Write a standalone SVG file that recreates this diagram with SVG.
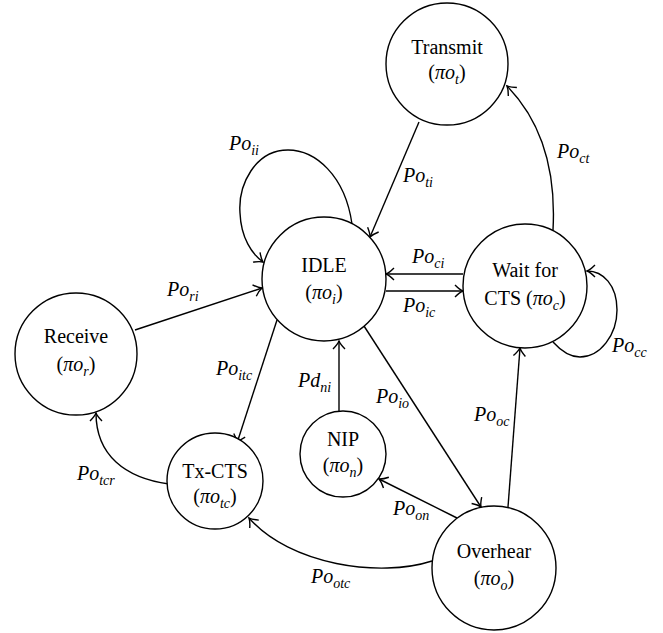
<svg xmlns="http://www.w3.org/2000/svg" width="663" height="633" viewBox="0 0 663 633">
<style>
.n{fill:#fff;stroke:#000;stroke-width:1.4}
.t{font-family:Liberation Serif,Times New Roman,Times,serif;font-size:20px;fill:#000;text-anchor:middle}
.l{font-family:Liberation Serif,Times New Roman,Times,serif;font-size:20px;font-style:italic;fill:#000}
.i{font-style:italic}
.s{font-size:14px;font-style:italic}
.e{fill:none;stroke:#000;stroke-width:1.4}
</style>
<defs>
<marker id="a" markerUnits="userSpaceOnUse" markerWidth="20" markerHeight="20" refX="0" refY="0" viewBox="-10 -10 20 20" orient="auto" overflow="visible">
<path d="M-8,-6 C-5,-3 -2,-0.8 0,0 C-2,0.8 -5,3 -8,6" fill="none" stroke="#000" stroke-width="1.4"/>
</marker>
</defs>
<rect width="663" height="633" fill="#fff"/>
<g id="connectors">
<path class="e" d="M419,122 L370,237" marker-end="url(#a)"/>
<path class="e" d="M352,224 C345,175 315,150 288,150 C255,150 238,185 240,213 C241,238 252,254 263,262" marker-end="url(#a)"/>
<path class="e" d="M553,230 C556,175 545,125 507,86" marker-end="url(#a)"/>
<path class="e" d="M463,274 L386,274" marker-end="url(#a)"/>
<path class="e" d="M386,291 L463,291" marker-end="url(#a)"/>
<path class="e" d="M553,342 C562,352 570,357 580,357 C600,357 617,335 617,310 C617,285 603,271 587,271" marker-end="url(#a)"/>
<path class="e" d="M135,330 L262,288" marker-end="url(#a)"/>
<path class="e" d="M277,320 L237,443" marker-end="url(#a)"/>
<path class="e" d="M339,412 L339,341" marker-end="url(#a)"/>
<path class="e" d="M364,326 L481,507" marker-end="url(#a)"/>
<path class="e" d="M508,507 L520,348" marker-end="url(#a)"/>
<path class="e" d="M457,518 L379,479" marker-end="url(#a)"/>
<path class="e" d="M432,561 C380,578 290,565 249,518" marker-end="url(#a)"/>
<path class="e" d="M169,484 C125,478 96,455 96,413" marker-end="url(#a)"/>
</g>
<g id="labels">
<text class="l" font-family="Liberation Serif" x="229" y="150">Po<tspan class="s" dy="5">ii</tspan></text>
<text class="l" font-family="Liberation Serif" x="403" y="182">Po<tspan class="s" dy="5">ti</tspan></text>
<text class="l" font-family="Liberation Serif" x="557" y="158">Po<tspan class="s" dy="5">ct</tspan></text>
<text class="l" font-family="Liberation Serif" x="412" y="263">Po<tspan class="s" dy="5">ci</tspan></text>
<text class="l" font-family="Liberation Serif" x="403" y="312">Po<tspan class="s" dy="5">ic</tspan></text>
<text class="l" font-family="Liberation Serif" x="612" y="352">Po<tspan class="s" dy="5">cc</tspan></text>
<text class="l" font-family="Liberation Serif" x="167" y="296">Po<tspan class="s" dy="5">ri</tspan></text>
<text class="l" font-family="Liberation Serif" x="216" y="375">Po<tspan class="s" dy="5">itc</tspan></text>
<text class="l" font-family="Liberation Serif" x="298" y="387">Pd<tspan class="s" dy="5">ni</tspan></text>
<text class="l" font-family="Liberation Serif" x="376" y="403">Po<tspan class="s" dy="5">io</tspan></text>
<text class="l" font-family="Liberation Serif" x="474" y="421">Po<tspan class="s" dy="5">oc</tspan></text>
<text class="l" font-family="Liberation Serif" x="393" y="515">Po<tspan class="s" dy="5">on</tspan></text>
<text class="l" font-family="Liberation Serif" x="311" y="583">Po<tspan class="s" dy="5">otc</tspan></text>
<text class="l" font-family="Liberation Serif" x="77" y="480">Po<tspan class="s" dy="5">tcr</tspan></text>
</g>
<g id="transmit">
<circle class="n" cx="447" cy="64" r="61"/>
<text class="t" font-family="Liberation Serif" x="447" y="54">Transmit</text>
<text class="t" font-family="Liberation Serif" x="447" y="79">(<tspan class="i">πo</tspan><tspan class="s" dy="5">t</tspan><tspan dy="-5">)</tspan></text>
</g>
<g id="idle">
<circle class="n" cx="324" cy="279" r="62"/>
<text class="t" font-family="Liberation Serif" x="324" y="272">IDLE</text>
<text class="t" font-family="Liberation Serif" x="324" y="299">(<tspan class="i">πo</tspan><tspan class="s" dy="5">i</tspan><tspan dy="-5">)</tspan></text>
</g>
<g id="waitcts">
<circle class="n" cx="525" cy="286" r="62"/>
<text class="t" font-family="Liberation Serif" x="525" y="277">Wait for</text>
<text class="t" font-family="Liberation Serif" x="525" y="305">CTS (<tspan class="i">πo</tspan><tspan class="s" dy="5">c</tspan><tspan dy="-5">)</tspan></text>
</g>
<g id="receive">
<circle class="n" cx="76" cy="354" r="61"/>
<text class="t" font-family="Liberation Serif" x="76" y="343">Receive</text>
<text class="t" font-family="Liberation Serif" x="76" y="371">(<tspan class="i">πo</tspan><tspan class="s" dy="5">r</tspan><tspan dy="-5">)</tspan></text>
</g>
<g id="txcts">
<circle class="n" cx="215" cy="481" r="48"/>
<text class="t" font-family="Liberation Serif" x="215" y="478">Tx-CTS</text>
<text class="t" font-family="Liberation Serif" x="215" y="503">(<tspan class="i">πo</tspan><tspan class="s" dy="5">tc</tspan><tspan dy="-5">)</tspan></text>
</g>
<g id="nip">
<circle class="n" cx="343" cy="454" r="43"/>
<text class="t" font-family="Liberation Serif" x="343" y="446">NIP</text>
<text class="t" font-family="Liberation Serif" x="343" y="472">(<tspan class="i">πo</tspan><tspan class="s" dy="5">n</tspan><tspan dy="-5">)</tspan></text>
</g>
<g id="overhear">
<circle class="n" cx="494" cy="568" r="62"/>
<text class="t" font-family="Liberation Serif" x="494" y="558">Overhear</text>
<text class="t" font-family="Liberation Serif" x="494" y="585">(<tspan class="i">πo</tspan><tspan class="s" dy="5">o</tspan><tspan dy="-5">)</tspan></text>
</g>
</svg>
